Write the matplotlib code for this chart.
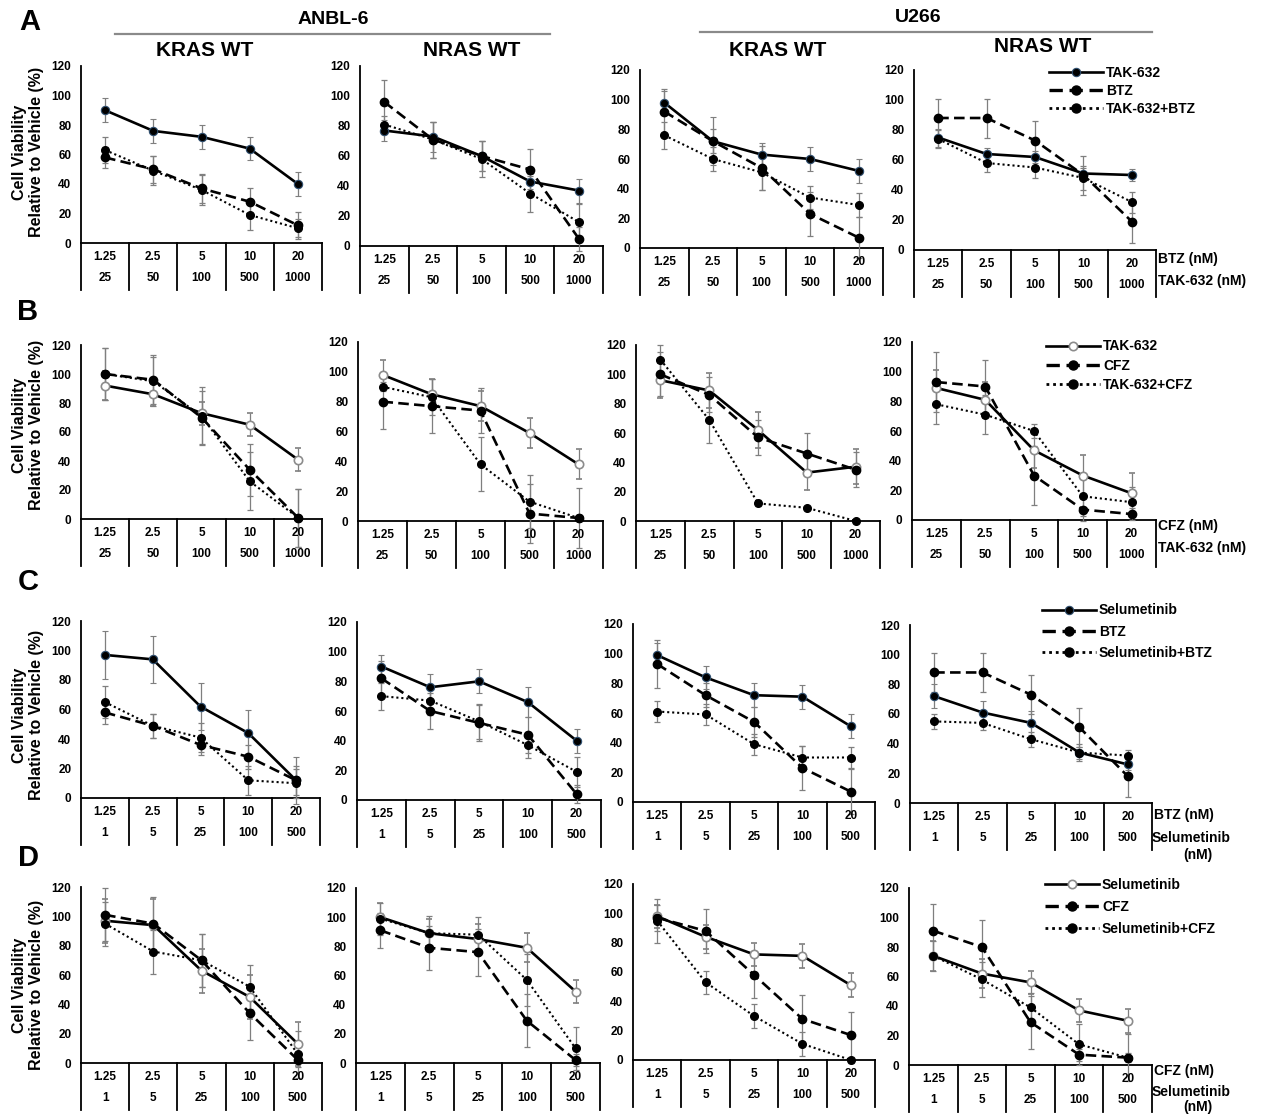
import matplotlib
matplotlib.use("Agg")
import matplotlib.pyplot as plt
import matplotlib.transforms as mtransforms
from matplotlib.lines import Line2D

plt.rcParams['font.family'] = ['Liberation Sans Narrow', 'Liberation Sans', 'DejaVu Sans']
plt.rcParams['font.weight'] = 'bold'

# ---------------- data ----------------
x_pos = [1, 2, 5, 10, 20]
row1_labels = ["1.25", "2.5", "5", "10", "20"]
tak_labels = ["25", "50", "100", "500", "1000"]
sel_labels = ["1", "5", "25", "100", "500"]

# Row A: TAK-632 / BTZ / TAK-632+BTZ
A_single = [[90, 76, 72, 64, 40], [77, 73, 60, 43, 37], [98, 72, 63, 60, 52], [75, 64, 62, 51, 50]]
A_single_err = [[8, 8, 8, 8, 8], [7, 10, 10, 5, 8], [8, 16, 8, 8, 8], [6, 4, 4, 4, 4]]
A_drug = [[58, 50, 37, 28, 12], [96, 71, 60, 51, 5], [92, 72, 54, 23, 7], [88, 88, 73, 50, 19]]
A_drug_err = [[7, 9, 10, 9, 9], [15, 12, 10, 14, 8], [15, 8, 15, 15, 14], [13, 13, 13, 13, 14]]
A_combo = [[63, 49, 36, 19, 10], [81, 71, 58, 35, 16], [76, 60, 51, 34, 29], [74, 58, 55, 48, 32]]
A_combo_err = [[9, 10, 10, 10, 6], [6, 12, 12, 12, 12], [9, 8, 12, 8, 8], [6, 6, 7, 8, 7]]

# Row B: TAK-632 / CFZ / TAK-632+CFZ
B_single = [[92, 86, 73, 65, 41], [98, 85, 77, 59, 38], [96, 89, 62, 33, 37], [89, 81, 47, 30, 18]]
B_single_err = [[10, 8, 8, 8, 8], [10, 10, 10, 10, 10], [12, 12, 12, 12, 12], [12, 12, 12, 14, 14]]
B_drug = [[100, 96, 70, 34, 1], [80, 77, 74, 5, 2], [100, 86, 57, 46, 35], [93, 90, 30, 7, 4]]
B_drug_err = [[18, 17, 18, 18, 20], [18, 18, 15, 20, 20], [15, 12, 12, 14, 12], [20, 18, 20, 8, 4]]
B_combo = [[100, 95, 71, 26, 1], [90, 83, 38, 13, 2], [110, 69, 12, 9, 0], [78, 71, 60, 16, 12]]
B_combo_err = [[18, 17, 20, 20, 20], [3, 12, 18, 18, 2], [10, 16, 2, 1, 1], [13, 13, 5, 13, 10]]

# Row C: Selumetinib / BTZ / Selumetinib+BTZ
C_single = [[97, 94, 62, 44, 12], [90, 76, 80, 66, 40], [99, 84, 72, 71, 51], [72, 61, 54, 34, 26]]
C_single_err = [[16, 16, 16, 16, 16], [8, 9, 8, 10, 8], [8, 8, 8, 8, 8], [8, 8, 8, 4, 4]]
C_drug = [[58, 49, 36, 28, 12], [82, 60, 52, 44, 4], [93, 72, 54, 23, 7], [88, 88, 73, 51, 18]]
C_drug_err = [[8, 8, 7, 8, 10], [12, 12, 12, 12, 6], [16, 8, 10, 15, 15], [13, 13, 13, 13, 14]]
C_combo = [[65, 49, 41, 12, 10], [70, 67, 53, 37, 19], [61, 59, 39, 30, 30], [55, 54, 43, 34, 32]]
C_combo_err = [[11, 8, 10, 10, 10], [9, 10, 12, 9, 10], [7, 7, 7, 8, 7], [5, 5, 5, 6, 4]]

# Row D: Selumetinib / CFZ / Selumetinib+CFZ
D_single = [[97, 94, 63, 45, 13], [100, 89, 85, 79, 49], [98, 84, 72, 71, 51], [74, 62, 56, 37, 30]]
D_single_err = [[15, 18, 15, 15, 15], [10, 10, 10, 10, 8], [8, 8, 8, 8, 8], [10, 10, 8, 8, 8]]
D_drug = [[101, 95, 70, 34, 2], [91, 79, 76, 29, 2], [97, 88, 58, 28, 17], [91, 80, 29, 7, 5]]
D_drug_err = [[18, 18, 18, 18, 5], [12, 15, 16, 18, 4], [9, 15, 16, 16, 16], [18, 18, 18, 4, 3]]
D_combo = [[95, 76, 70, 52, 6], [99, 89, 88, 57, 10], [95, 53, 30, 11, 0], [74, 58, 39, 14, 5]]
D_combo_err = [[15, 15, 18, 15, 16], [11, 12, 12, 18, 15], [15, 8, 8, 8, 2], [10, 12, 10, 14, 16]]

rows = [
    dict(single=A_single, se=A_single_err, drug=A_drug, de=A_drug_err, combo=A_combo, ce=A_combo_err,
         names=["TAK-632", "BTZ", "TAK-632+BTZ"], lab2=tak_labels, open_single=False,
         right1="BTZ (nM)", right2="TAK-632 (nM)"),
    dict(single=B_single, se=B_single_err, drug=B_drug, de=B_drug_err, combo=B_combo, ce=B_combo_err,
         names=["TAK-632", "CFZ", "TAK-632+CFZ"], lab2=tak_labels, open_single=True,
         right1="CFZ (nM)", right2="TAK-632 (nM)"),
    dict(single=C_single, se=C_single_err, drug=C_drug, de=C_drug_err, combo=C_combo, ce=C_combo_err,
         names=["Selumetinib", "BTZ", "Selumetinib+BTZ"], lab2=sel_labels, open_single=False,
         right1="BTZ (nM)", right2="Selumetinib\n(nM)"),
    dict(single=D_single, se=D_single_err, drug=D_drug, de=D_drug_err, combo=D_combo, ce=D_combo_err,
         names=["Selumetinib", "CFZ", "Selumetinib+CFZ"], lab2=sel_labels, open_single=True,
         right1="CFZ (nM)", right2="Selumetinib\n(nM)"),
]

# ---------------- layout (pixels) ----------------
W, H = 1262, 1116
fig = plt.figure(figsize=(W / 100, H / 100), dpi=100)

def fx(px):
    return px / W

def fy(py):
    return 1 - py / H

# (x_left, x_right, y_of_0, y_of_120)
panel_px = [
    [(81, 322, 243, 66), (360, 603, 246, 66), (640, 883, 248, 70), (914, 1156, 250, 70)],
    [(81, 322, 519, 345), (358, 603, 521, 342), (636, 880, 521, 345), (912, 1156, 520, 342)],
    [(81, 320, 798, 621), (357, 601, 800, 622), (633, 875, 802, 624), (910, 1152, 803, 625)],
    [(81, 322, 1063, 887), (356, 600, 1063, 888), (633, 875, 1060, 884), (909, 1152, 1065, 888)],
]
# right-hand label pixel y positions: (line1, line2, "(nM)")
right_px = [(259, 281, None), (526, 548, None), (815, 838, 855), (1071, 1092, 1107)]
# legend: (left x, first-row centre y, row spacing)
legend_px = [(1049, 75, 18), (1046, 349, 19), (1042, 614, 21), (1045, 889, 22)]
ylabel_y = [152, 425, 715, 985]
letters = [("A", 30, 22), ("B", 28, 312), ("C", 28, 582), ("D", 28, 858)]

err_col = "#7f7f7f"
dash_style = (0, (4.0, 2.0))
dot_style = (0, (1.0, 1.4))
leg_fs = 10

for r, row in enumerate(rows):
    for p in range(4):
        x0, x1, y0, y120 = panel_px[r][p]
        hpx = y0 - y120
        ax = fig.add_axes([fx(x0), fy(y0), fx(x1) - fx(x0), hpx / H])
        xs = list(range(1, 6))
        if row["open_single"]:
            mk = dict(marker="o", ms=6, mfc="white", mec="#8c8c8c", mew=1.2)
        else:
            mk = dict(marker="o", ms=6, mfc="black", mec="#2f4f6f", mew=0.8)
        ax.errorbar(xs, row["single"][p], yerr=row["se"][p], color="black", lw=1.9, ls="-",
                    ecolor=err_col, elinewidth=0.9, capsize=2.5, capthick=0.9, clip_on=False,
                    zorder=3, **mk)
        ax.errorbar(xs, row["drug"][p], yerr=row["de"][p], color="black", lw=1.9, ls=dash_style,
                    marker="o", ms=6, mfc="black", mec="black",
                    ecolor=err_col, elinewidth=0.9, capsize=2.5, capthick=0.9, clip_on=False, zorder=3)
        ax.errorbar(xs, row["combo"][p], yerr=row["ce"][p], color="black", lw=1.5, ls=dot_style,
                    marker="o", ms=5.5, mfc="black", mec="black",
                    ecolor=err_col, elinewidth=0.9, capsize=2.5, capthick=0.9, clip_on=False, zorder=3)
        ax.set_xlim(0.5, 5.5)
        ax.set_ylim(0, 120)
        ax.set_yticks(range(0, 121, 20))
        ax.set_xticks([])
        ax.tick_params(axis="y", length=0, pad=7, labelsize=8.5)
        for lab in ax.get_yticklabels():
            lab.set_fontweight("bold")
        ax.spines["top"].set_visible(False)
        ax.spines["right"].set_visible(False)
        ax.spines["left"].set_linewidth(1.3)
        ax.spines["bottom"].set_linewidth(1.3)
        ax.patch.set_alpha(0)

        # table under the axis
        trans = mtransforms.blended_transform_factory(ax.transData, ax.transAxes)
        bottom = -47 / hpx
        for b in [0.5, 1.5, 2.5, 3.5, 4.5, 5.5]:
            ax.add_line(Line2D([b, b], [0, bottom], transform=trans, color="black", lw=1.3,
                               clip_on=False))
        for i in range(5):
            ax.text(i + 1, -14 / hpx, row1_labels[i], transform=trans, ha="center", va="center",
                    fontsize=8.5, fontweight="bold")
            ax.text(i + 1, -35 / hpx, row["lab2"][i], transform=trans, ha="center", va="center",
                    fontsize=8.5, fontweight="bold")
        if p == 3:
            r1, r2, r3 = right_px[r]
            ax.text(1.01, -(r1 - y0) / hpx, row["right1"], transform=ax.transAxes, ha="left",
                    va="center", fontsize=10, fontweight="bold")
            if r3 is not None:
                a, b2 = row["right2"].split("\n")
                ax.text(1.0, -(r2 - y0) / hpx, a, transform=ax.transAxes, ha="left",
                        va="center", fontsize=10, fontweight="bold")
                ax.text(1.19, -(r3 - y0) / hpx, b2, transform=ax.transAxes, ha="center",
                        va="center", fontsize=10, fontweight="bold")
            else:
                ax.text(1.01, -(r2 - y0) / hpx, row["right2"], transform=ax.transAxes, ha="left",
                        va="center", fontsize=10, fontweight="bold")
            # legend
            handles = [
                Line2D([], [], color="black", lw=1.9, ls="-", **mk),
                Line2D([], [], color="black", lw=2.4, ls=dash_style, marker="o", ms=6.5, mfc="black"),
                Line2D([], [], color="black", lw=2.0, ls=dot_style, marker="o", ms=6.5, mfc="black"),
            ]
            lx, lyc, sp = legend_px[r]
            fs_px = leg_fs * 100 / 72
            lsp = max(sp / fs_px - 1.0, 0.05)
            fig.legend(handles, row["names"], loc="upper left",
                       bbox_to_anchor=(fx(lx), fy(lyc - 0.5 * sp)), frameon=False,
                       handlelength=3.9, handletextpad=0.2, labelspacing=lsp,
                       borderaxespad=0, borderpad=0, prop=dict(weight="bold", size=leg_fs))

    fig.text(fx(28), fy(ylabel_y[r]), "Cell Viability\nRelative to Vehicle (%)", rotation=90,
             ha="center", va="center", fontsize=11.5, fontweight="bold", linespacing=1.15,
             family=["Liberation Sans", "DejaVu Sans"])

for letter, lx, ly in letters:
    fig.text(fx(lx), fy(ly), letter, ha="center", va="center", fontsize=21, fontweight="bold",
             family=["Liberation Sans", "DejaVu Sans"])

# header
fig.text(fx(333), fy(20), "ANBL-6", ha="center", va="center", fontsize=14, fontweight="bold")
fig.text(fx(918), fy(17), "U266", ha="center", va="center", fontsize=14, fontweight="bold")
fig.add_artist(Line2D([fx(115), fx(550)], [fy(34), fy(34)], color="#8a8a8a", lw=1.6))
fig.add_artist(Line2D([fx(700), fx(1152)], [fy(32), fy(32)], color="#8a8a8a", lw=1.6))
for txt, tx, ty in [("KRAS WT", 205, 50), ("NRAS WT", 472, 50), ("KRAS WT", 778, 50),
                    ("NRAS WT", 1043, 47)]:
    fig.text(fx(tx), fy(ty), txt, ha="center", va="center", fontsize=15, fontweight="bold")

fig.savefig("out.png", dpi=100)
